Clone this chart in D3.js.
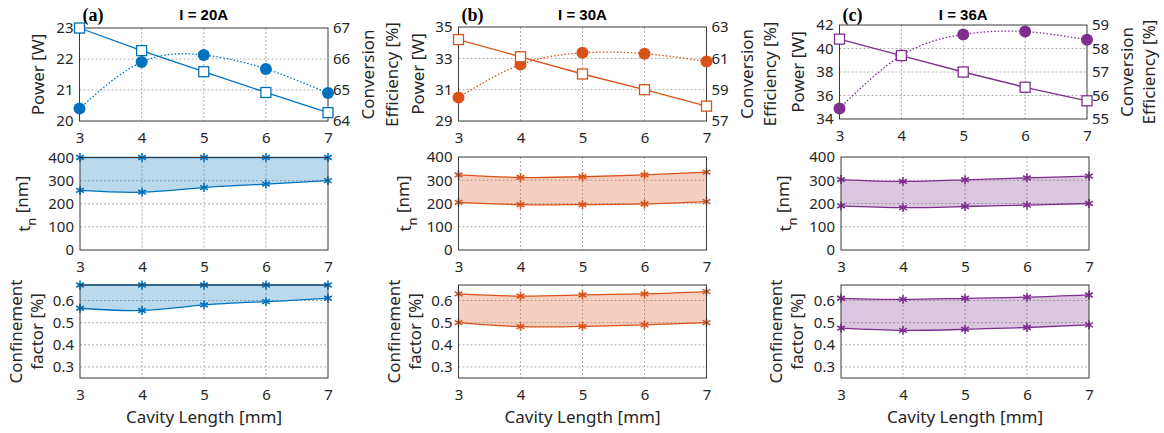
<!DOCTYPE html>
<html>
<head>
<meta charset="utf-8">
<script src="https://cdn.jsdelivr.net/npm/d3@7"></script>
<style>
    body { margin: 0; background: #fff; }
    svg { display: block; }
    .tick text { font-family: "Noto Sans", sans-serif; font-size: 15px; fill: #262626; }
    .lbl { font-family: "Noto Sans", sans-serif; font-size: 17px; fill: #262626; }
    .ttl { font-family: "Liberation Sans", Arial, sans-serif; font-size: 15px; font-weight: bold; fill: #000; }
    .tag { font-family: "Liberation Serif", serif; font-size: 18px; font-weight: bold; fill: #000; }
</style>
</head>
<body>
<div id="chart"></div>
<script>

// ---- data ----
const cavityLength = [3, 4, 5, 6, 7];
const panelTags = ['(a)', '(b)', '(c)'];
const currents = ['I = 20A', 'I = 30A', 'I = 36A'];
const colors = ['#0072BD', '#D95319', '#7E2F8E'];

// output power [W] (squares) and conversion efficiency [%] (circles)
const power20 = [23.0, 22.27, 21.59, 20.92, 20.27];
const eff20 = [64.4, 65.9, 66.13, 65.68, 64.9];
const power30 = [34.2, 33.1, 32.0, 31.0, 29.95];
const eff30 = [58.5, 60.6, 61.35, 61.3, 60.8];
const power36 = [40.8, 39.4, 38.0, 36.7, 35.55];
const eff36 = [55.45, 57.7, 58.6, 58.72, 58.37];

const powerTicks = [[20, 21, 22, 23], [29, 31, 33, 35], [34, 36, 38, 40, 42]];
const effTicks = [[64, 65, 66, 67], [57, 59, 61, 63], [55, 56, 57, 58, 59]];

// t_n [nm] band
const tnUpper20 = [400, 400, 400, 400, 400];
const tnLower20 = [258, 250, 270, 285, 300];
const tnUpper30 = [323, 312, 315, 323, 335];
const tnLower30 = [205, 195, 195, 198, 208];
const tnUpper36 = [303, 295, 302, 310, 318];
const tnLower36 = [190, 182, 187, 193, 200];
const tnTicks = [0, 100, 200, 300, 400];

// confinement factor [%] band
const cfUpper20 = [0.67, 0.67, 0.67, 0.67, 0.67];
const cfLower20 = [0.565, 0.555, 0.58, 0.595, 0.61];
const cfUpper30 = [0.63, 0.62, 0.625, 0.63, 0.64];
const cfLower30 = [0.50, 0.482, 0.483, 0.49, 0.50];
const cfUpper36 = [0.61, 0.605, 0.61, 0.615, 0.625];
const cfLower36 = [0.475, 0.465, 0.47, 0.478, 0.49];
const cfTicks = [0.3, 0.4, 0.5, 0.6];
const cfDomain = [0.25, 0.67];

const powers = [power20, power30, power36];
const effs = [eff20, eff30, eff36];
const tnBands = [[tnUpper20, tnLower20], [tnUpper30, tnLower30], [tnUpper36, tnLower36]];
const cfBands = [[cfUpper20, cfLower20], [cfUpper30, cfLower30], [cfUpper36, cfLower36]];

// ---- layout (pixel boxes of every axes) ----
const layout = [
    {top: {x: [79.5, 328], y: [28, 121]}, mid: {x: [80, 328], y: [157.5, 250]}, bot: {x: [80, 328], y: [285, 378]}},
    {top: {x: [458.5, 706.5], y: [27, 121]}, mid: {x: [458.5, 706.5], y: [157, 250]}, bot: {x: [458.5, 706.5], y: [285, 378]}},
    {top: {x: [839.5, 1087], y: [25, 119]}, mid: {x: [841, 1089], y: [157, 250]}, bot: {x: [841, 1089], y: [285, 378]}}
];
const labelX = [
    {power: 38, conv: 368, eff: 392, tn: 24, conf: 16, factor: 37},
    {power: 418, conv: 747, eff: 770, tn: 405, conf: 394, factor: 415},
    {power: 798, conv: 1127, eff: 1149, tn: 785, conf: 776, factor: 797}
];

const fmt = d => String(d);

const svg = d3.select('#chart').append('svg')
    .attr('width', 1164)
    .attr('height', 433);

// draws grid and tick labels, returns scales
function makeAxes(box, yDomain, yTicks) {
    let g = svg.append('g');
    let x = d3.scaleLinear().domain([3, 7]).range(box.x);
    let y = d3.scaleLinear().domain(yDomain).range([box.y[1], box.y[0]]);

    // grid
    g.selectAll('.vgrid').data(cavityLength.slice(1, -1)).enter().append('line')
        .attr('x1', d => x(d)).attr('x2', d => x(d))
        .attr('y1', box.y[0]).attr('y2', box.y[1])
        .attr('stroke', '#9a9a9a').attr('stroke-width', 0.8).attr('stroke-dasharray', '2,2');
    g.selectAll('.hgrid').data(yTicks.filter(t => y(t) > box.y[0] + 1 && y(t) < box.y[1] - 1)).enter().append('line')
        .attr('y1', d => y(d)).attr('y2', d => y(d))
        .attr('x1', box.x[0]).attr('x2', box.x[1])
        .attr('stroke', '#9a9a9a').attr('stroke-width', 0.8).attr('stroke-dasharray', '2,2');

    // tick labels
    g.append('g')
        .attr('transform', `translate(0, ${box.y[1]})`)
        .call(d3.axisBottom(x).tickValues(cavityLength).tickFormat(fmt).tickSize(0).tickPadding(11))
        .call(a => a.select('.domain').remove());
    g.append('g')
        .attr('transform', `translate(${box.x[0]}, 0)`)
        .call(d3.axisLeft(y).tickValues(yTicks).tickFormat(fmt).tickSize(0).tickPadding(6))
        .call(a => a.select('.domain').remove());

    return {g: g, x: x, y: y};
}

function drawBox(g, box) {
    g.append('rect')
        .attr('x', box.x[0]).attr('y', box.y[0])
        .attr('width', box.x[1] - box.x[0]).attr('height', box.y[1] - box.y[0])
        .attr('fill', 'none').attr('stroke', '#3a3a3a').attr('stroke-width', 1);
}

function rotLabel(x, y, text) {
    return svg.append('text')
        .attr('class', 'lbl')
        .attr('text-anchor', 'middle')
        .attr('transform', `translate(${x}, ${y}) rotate(-90)`)
        .attr('dy', '0.35em')
        .text(text);
}

function drawBand(ax, band, color) {
    let pts = cavityLength.map((c, i) => ({c: c, hi: band[0][i], lo: band[1][i]}));
    ax.g.append('path')
        .datum(pts)
        .attr('fill', color).attr('fill-opacity', 0.27)
        .attr('d', d3.area().x(d => ax.x(d.c)).y0(d => ax.y(d.lo)).y1(d => ax.y(d.hi)).curve(d3.curveNatural));
    band.forEach(vals => {
        let line = d3.line().x((d, i) => ax.x(cavityLength[i])).y(d => ax.y(d)).curve(d3.curveNatural);
        ax.g.append('path')
            .datum(vals)
            .attr('fill', 'none').attr('stroke', color).attr('stroke-width', 1.3)
            .attr('d', line);
        ax.g.selectAll(null).data(vals).enter().append('path')
            .attr('transform', (d, i) => `translate(${ax.x(cavityLength[i])}, ${ax.y(d)})`)
            .attr('d', d3.symbol().type(d3.symbolAsterisk).size(55))
            .attr('fill', 'none').attr('stroke', color).attr('stroke-width', 1.6);
    });
}

for (let k = 0; k < 3; k++) {
    let L = layout[k];
    let color = colors[k];

    // ---- top: power + efficiency ----
    let pd = [powerTicks[k][0], powerTicks[k][powerTicks[k].length - 1]];
    let ed = [effTicks[k][0], effTicks[k][effTicks[k].length - 1]];
    let top = makeAxes(L.top, pd, powerTicks[k]);
    let yEff = d3.scaleLinear().domain(ed).range([L.top.y[1], L.top.y[0]]);
    top.g.append('g')
        .attr('transform', `translate(${L.top.x[1]}, 0)`)
        .call(d3.axisRight(yEff).tickValues(effTicks[k]).tickFormat(fmt).tickSize(0).tickPadding(5))
        .call(a => a.select('.domain').remove());
    drawBox(top.g, L.top);

    // efficiency, dotted smooth curve with filled circles
    top.g.append('path')
        .datum(effs[k])
        .attr('fill', 'none').attr('stroke', color).attr('stroke-width', 1.3)
        .attr('stroke-dasharray', '1.5,2')
        .attr('d', d3.line().x((d, i) => top.x(cavityLength[i])).y(d => yEff(d)).curve(d3.curveNatural));
    top.g.selectAll(null).data(effs[k]).enter().append('circle')
        .attr('cx', (d, i) => top.x(cavityLength[i]))
        .attr('cy', d => yEff(d))
        .attr('r', 6)
        .attr('fill', color);

    // power, solid line with open squares
    top.g.append('path')
        .datum(powers[k])
        .attr('fill', 'none').attr('stroke', color).attr('stroke-width', 1.3)
        .attr('d', d3.line().x((d, i) => top.x(cavityLength[i])).y(d => top.y(d)));
    top.g.selectAll(null).data(powers[k]).enter().append('rect')
        .attr('x', (d, i) => top.x(cavityLength[i]) - 5)
        .attr('y', d => top.y(d) - 5)
        .attr('width', 10).attr('height', 10)
        .attr('fill', '#fff').attr('stroke', color).attr('stroke-width', 1.3);

    // titles
    svg.append('text').attr('class', 'ttl')
        .attr('x', (L.top.x[0] + L.top.x[1]) / 2).attr('y', 20)
        .attr('text-anchor', 'middle')
        .text(currents[k]);
    svg.append('text').attr('class', 'tag')
        .attr('x', L.top.x[0] + 3).attr('y', 21)
        .text(panelTags[k]);

    let cy = (L.top.y[0] + L.top.y[1]) / 2;
    rotLabel(labelX[k].power, cy, 'Power [W]');
    rotLabel(labelX[k].conv, cy, 'Conversion');
    rotLabel(labelX[k].eff, cy, 'Efficiency [%]');

    // ---- middle: t_n band ----
    let mid = makeAxes(L.mid, [0, 400], tnTicks);
    drawBand(mid, tnBands[k], color);
    drawBox(mid.g, L.mid);
    let tn = svg.append('text')
        .attr('class', 'lbl')
        .attr('text-anchor', 'middle')
        .attr('transform', `translate(${labelX[k].tn}, ${(L.mid.y[0] + L.mid.y[1]) / 2}) rotate(-90)`)
        .attr('dy', '0.35em');
    tn.append('tspan').text('t');
    tn.append('tspan').attr('dy', '0.45em').attr('font-size', '13px').text('n');
    tn.append('tspan').attr('dy', '-0.45em').text(' [nm]');

    // ---- bottom: confinement factor band ----
    let bot = makeAxes(L.bot, cfDomain, cfTicks);
    drawBand(bot, cfBands[k], color);
    drawBox(bot.g, L.bot);
    let by = (L.bot.y[0] + L.bot.y[1]) / 2;
    rotLabel(labelX[k].conf, by, 'Confinement');
    rotLabel(labelX[k].factor, by, 'factor [%]');

    svg.append('text').attr('class', 'lbl')
        .attr('x', (L.bot.x[0] + L.bot.x[1]) / 2).attr('y', 423)
        .attr('text-anchor', 'middle')
        .text('Cavity Length [mm]');
}

</script>
</body>
</html>
